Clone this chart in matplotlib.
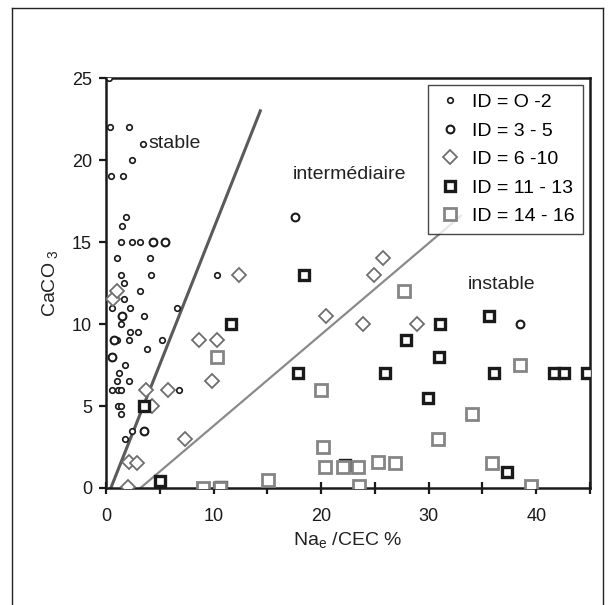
import matplotlib
matplotlib.use('Agg')
import matplotlib.pyplot as plt
from matplotlib.lines import Line2D
from matplotlib.ticker import MultipleLocator

plt.rcParams['font.family'] = ['Liberation Sans', 'DejaVu Sans']

# ID = 0-2 (petits cercles)
id02_x = [0.3, 0.4, 2.1, 3.4, 2.4, 0.5, 1.6, 1.85, 1.5, 1.35, 2.45, 3.2, 1.0, 4.05,
          1.35, 4.2, 1.7, 3.2, 0.6, 1.7, 2.25, 1.45, 3.5, 1.4, 2.25, 3.0, 2.15, 1.0,
          5.2, 3.8, 1.8, 1.2, 1.0, 2.1, 0.6, 1.1, 1.4, 6.8, 6.6, 10.3, 1.1, 1.4,
          1.35, 1.8, 2.45]
id02_y = [25, 22, 22, 21, 20, 19, 19, 16.5, 16, 15, 15, 15, 14, 14,
          13, 13, 12.5, 12, 11, 11.5, 11, 10.5, 10.5, 10, 9.5, 9.5, 9, 9,
          9, 8.5, 7.5, 7, 6.5, 6.5, 6, 6, 6, 6, 11, 13, 5, 5,
          4.5, 3, 3.5]

# ID = 3-5
id35_x = [4.4, 5.5, 0.7, 0.55, 3.5, 1.45, 17.6, 38.5]
id35_y = [15, 15, 9, 8, 3.5, 10.5, 16.5, 10]

# ID = 6-10
id610_x = [0.65, 1.0, 3.7, 4.3, 5.8, 7.3, 8.6, 9.85, 10.3, 12.4, 2.15, 2.9, 2.0,
           20.5, 23.85, 24.9, 25.8, 28.9]
id610_y = [11.5, 12, 6, 5, 6, 3, 9, 6.5, 9, 13, 1.6, 1.5, 0.05,
           10.5, 10, 13, 14, 10]

# ID = 11-13
id1113_x = [3.5, 5.0, 10.7, 11.6, 17.85, 18.45, 22.25, 25.95, 27.85, 29.9, 31.0,
            31.1, 35.65, 36.1, 37.25, 41.65, 42.6, 44.7]
id1113_y = [5, 0.4, 0.05, 10, 7, 13, 1.4, 7, 9, 5.5, 8,
            10, 10.5, 7, 1.0, 7, 7, 7]

# ID = 14-16
id1416_x = [10.35, 9.0, 10.6, 15.05, 19.95, 20.15, 20.4, 22.05, 23.4, 23.55, 25.3,
            26.9, 27.75, 30.9, 34.05, 35.85, 38.5, 39.5]
id1416_y = [8, 0, 0, 0.5, 6, 2.5, 1.25, 1.25, 1.25, 0.1, 1.6,
            1.5, 12, 3, 4.5, 1.5, 7.5, 0.1]

# limites des domaines
line_stable_x = [0.45, 14.35]
line_stable_y = [0, 23]
line_instable_x = [3.2, 33.0]
line_instable_y = [0, 16.6]

fig = plt.figure(figsize=(6.11, 6.05), dpi=100)
ax = fig.add_axes([0.1735, 0.1934, 0.7921, 0.6776])

# cadre extérieur
for xs, ys in [([0.02, 0.02], [0.0, 0.987]), ([0.02, 0.987], [0.987, 0.987]),
               ([0.987, 0.987], [0.987, 0.0])]:
    fig.add_artist(Line2D(xs, ys, color='#222222', lw=1.0, transform=fig.transFigure))

ax.plot(line_stable_x, line_stable_y, color='#5a5a5a', lw=2.2, zorder=1)
ax.plot(line_instable_x, line_instable_y, color='#8a8a8a', lw=1.6, zorder=1)

ax.plot(id02_x, id02_y, 'o', ls='none', ms=4.0, mfc='white', mec='#1a1a1a', mew=1.2,
        label='ID = O -2', zorder=3)
ax.plot(id35_x, id35_y, 'o', ls='none', ms=5.6, mfc='white', mec='#1a1a1a', mew=1.5,
        label='ID = 3 - 5', zorder=3)
ax.plot(id610_x, id610_y, 'D', ls='none', ms=7.0, mfc='white', mec='#6e6e6e', mew=1.3,
        label='ID = 6 -10', zorder=3)
ax.plot(id1113_x, id1113_y, 's', ls='none', ms=6.5, mfc='white', mec='#1a1a1a', mew=2.4,
        label='ID = 11 - 13', zorder=4)
ax.plot(id1416_x, id1416_y, 's', ls='none', ms=9.0, mfc='white', mec='#858585', mew=2.0,
        label='ID = 14 - 16', zorder=5)

ax.text(3.9, 21, 'stable', fontsize=14, va='center', ha='left', color='#222222')
ax.text(17.4, 19.1, 'intermédiaire', fontsize=14, va='center', ha='left', color='#222222')
ax.text(33.6, 12.4, 'instable', fontsize=14, va='center', ha='left', color='#222222')

ax.set_xlim(0, 45)
ax.set_ylim(0, 25)
ax.xaxis.set_major_locator(MultipleLocator(10))
ax.xaxis.set_minor_locator(MultipleLocator(5))
ax.yaxis.set_major_locator(MultipleLocator(5))
ax.tick_params(axis='x', which='both', direction='inout', length=9, width=1.6,
               labelsize=13, pad=10, colors='#1a1a1a')
ax.tick_params(axis='y', which='major', direction='out', length=5, width=1.6,
               labelsize=13, pad=5, colors='#1a1a1a')
for s in ax.spines.values():
    s.set_linewidth(1.8)
    s.set_color('#1a1a1a')

ax.set_xlabel(r'Na$_{\mathregular{e}}$ /CEC %', fontsize=14, labelpad=4, color='#222222')
ax.set_ylabel(r'CaCO$_{\mathregular{\ 3}}$', fontsize=14, labelpad=8, color='#222222')

leg = ax.legend(loc='upper right', fontsize=14, frameon=True, fancybox=False,
                edgecolor='#1a1a1a', borderpad=0.45, labelspacing=0.56,
                handletextpad=0.45, handlelength=1.35, borderaxespad=0.35, markerscale=1.0)
leg.get_frame().set_linewidth(1.0)
leg.set_zorder(10)

fig.savefig('out.png', dpi=100, facecolor='white')
